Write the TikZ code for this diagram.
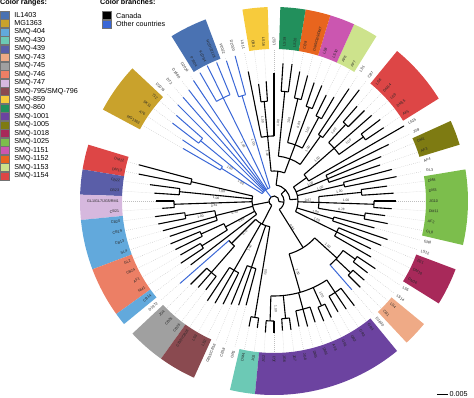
\documentclass[tikz,border=0pt]{standalone}
\usepackage{fontspec}
\setmainfont{Liberation Sans}
\setsansfont{Liberation Sans}
\usetikzlibrary{positioning}

\definecolor{cil}{HTML}{4A72B2}
\definecolor{cmg}{HTML}{C9A22C}
\definecolor{c404}{HTML}{62A9DC}
\definecolor{c430}{HTML}{6CC9B5}
\definecolor{c439}{HTML}{5A5EA8}
\definecolor{c743}{HTML}{EFAA86}
\definecolor{c745}{HTML}{A0A0A0}
\definecolor{c746}{HTML}{EC7F65}
\definecolor{c747}{HTML}{D6B8DE}
\definecolor{c795}{HTML}{8A4A50}
\definecolor{c859}{HTML}{F7CB3C}
\definecolor{c860}{HTML}{22905C}
\definecolor{c1001}{HTML}{6C43A0}
\definecolor{c1005}{HTML}{7E7B12}
\definecolor{c1018}{HTML}{A8295A}
\definecolor{c1025}{HTML}{7CBE4C}
\definecolor{c1151}{HTML}{CB56B0}
\definecolor{c1152}{HTML}{E8651E}
\definecolor{c1153}{HTML}{CDE38C}
\definecolor{c1154}{HTML}{DD4646}
\definecolor{othblue}{HTML}{3A67D6}

% tree helpers: arc at radius #2 from angle #3 to #4, radial line at angle #2 from #3 to #4
\newcommand\arcat[4][cn]{\draw[#1] (#3:#2) arc[start angle=#3, end angle=#4, radius=#2];}
\newcommand\radl[4][cn]{\draw[#1] (#2:#3) -- (#2:#4);}

\begin{document}
\begin{tikzpicture}[x=1pt,y=1pt,
cn/.style={black, line width=1.1pt},
ot/.style={othblue, line width=1pt},
leader/.style={gray!50, line width=0.35pt, dash pattern=on 0.7pt off 1.3pt},
leaf/.style={font=\fontsize{3.7}{3.7}\selectfont, inner sep=0pt, text=black!85},
supp/.style={font=\fontsize{3.3}{3.3}\selectfont, inner sep=0pt, text=black!80},
swatch/.style={minimum width=9.5pt, minimum height=8pt, inner sep=0pt, draw=black!55, line width=0.3pt},
legtext/.style={font=\fontsize{7.2}{7.2}\selectfont, inner sep=0.5pt, anchor=west},
legtitle/.style={font=\fontsize{7.2}{7.2}\selectfont\bfseries, inner sep=0pt, anchor=base west}]
\useasboundingbox (0,0) rectangle (474,398);

% legends
\node[legtitle] (rangetitle) at (0,393.5) {Color ranges:};
\foreach \col/\lab [count=\i from 0] in {cil/IL1403, cmg/MG1363, c404/SMQ-404, c430/SMQ-430,
  c439/SMQ-439, c743/SMQ-743, c745/SMQ-745, c746/SMQ-746, c747/SMQ-747, c795/{SMQ-795/SMQ-796},
  c859/SMQ-859, c860/SMQ-860, c1001/SMQ-1001, c1005/SMQ-1005, c1018/SMQ-1018, c1025/SMQ-1025,
  c1151/SMQ-1151, c1152/SMQ-1152, c1153/SMQ-1153, c1154/SMQ-1154}{
  \node[swatch, fill=\col] (sw\i) at (4.75,{383-8.46*\i}) {};
  \node[legtext, right=4pt of sw\i] (lg\i) {\lab};
}
\node[legtitle] (branchtitle) at (100,393.5) {Color branches:};
\node[swatch, fill=black] (swca) at (106.5,382.5) {};
\node[swatch, fill=othblue, below=0pt of swca] (swot) {};
\node[legtext, right=4pt of swca] (lgca) {Canada};
\node[legtext, right=4pt of swot] (lgot) {Other countries};

% scale bar
\coordinate (sb1) at (437,3.5);
\coordinate (sb2) at (448,3.5);
\draw[line width=1pt] (sb1) -- (sb2);
\node[legtext, right=1pt of sb2] (sblab) {0.005};

\begin{scope}[shift={(274,197)}]
% colour ranges
\foreach \a/\b/\col in {-3/2/c1025, 5/6/c1005, 9/13/c1154, 16/17/c1153, 18/19/c1151, 20/21/c1152,
  22/23/c860, 25/26/c859, 30/32/cil, 37/40/cmg, 44/45/c1154, 46/47/c439, 48/49/c747, 50/53/c404,
  54/57/c746, 58/58/c404, 60/62/c745, 63/65/c795, 69/70/c430, 71/82/c1001, 84/85/c743, 88/90/c1018}{
  \fill[\col] (\a*3.75-1.875:152) arc[start angle=\a*3.75-1.875, end angle=\b*3.75+1.875, radius=152]
    -- (\b*3.75+1.875:194) arc[start angle=\b*3.75+1.875, end angle=\a*3.75-1.875, radius=194] -- cycle;
}

% root
\arcat{5}{-7}{242.8}
\radl{-7}{5}{10}
\radl[ot]{127.5}{5}{14}
\radl{191}{5}{22}
\radl{242.8}{5}{26}
\arcat{10}{-58}{43.6}
\radl{43.6}{10}{16}
\radl{-58}{10}{55}
% upper right
\arcat{16}{4.7}{82.5}
\radl{4.7}{16}{24}
\radl{82.5}{16}{30}
\arcat{24}{-26.25}{35.625}
\radl{-26.25}{24}{70} \arcat{70}{-30}{-22.5}
\radl{-16.875}{24}{62} \arcat{62}{-18.75}{-15}
\radl{-1.875}{24}{45} \arcat{45}{-9.375}{5.625}
\radl{-9.375}{45}{92} \arcat{92}{-11.25}{-7.5}
\radl{-1.875}{45}{100} \arcat{100}{-3.75}{0}
\radl{5.625}{45}{88} \arcat{88}{3.75}{7.5}
\radl{13.125}{24}{72} \arcat{72}{11.25}{15}
\radl{22.5}{24}{58} \arcat{58}{18.75}{26.25}
\radl{35.625}{24}{40} \arcat{40}{30}{41.25}
\radl{41.25}{40}{80} \arcat{80}{35.625}{46.875}
\radl{35.625}{80}{110} \arcat{110}{33.75}{37.5}
\radl{46.875}{80}{105} \arcat{105}{45}{48.75}
\arcat{30}{69.375}{95.625}
\radl{95.625}{30}{65} \arcat{65}{90}{101.25}
\radl{95.625}{65}{100} \arcat{100}{93.75}{97.5}
\radl{69.375}{30}{45} \arcat{45}{54.375}{84.375}
\radl{54.375}{45}{80} \arcat{80}{52.5}{56.25}
\radl{69.375}{45}{60} \arcat{60}{61.875}{76.875}
\radl{61.875}{60}{95} \arcat{95}{60}{63.75}
\radl{69.375}{60}{100} \arcat{100}{67.5}{71.25}
\radl{76.875}{60}{105} \arcat{105}{75}{78.75}
\radl{84.375}{45}{110} \arcat{110}{82.5}{86.25}
% lower right
\arcat{55}{286}{317.8}
\radl{286}{55}{95} \arcat{95}{268.125}{303.75}
\radl{268.125}{95}{120} \arcat{120}{266.25}{270}
\radl{275.625}{95}{118} \arcat{118}{273.75}{277.5}
\radl{285}{95}{112} \arcat{112}{281.25}{288.75}
\radl{294.375}{95}{115} \arcat{115}{292.5}{296.25}
\radl{303.75}{95}{110} \arcat{110}{300}{307.5}
\radl{317.8}{55}{85} \arcat{85}{311.25}{324.375}
\radl{316.875}{85}{105} \arcat{105}{315}{318.75}
\radl{324.375}{85}{100} \arcat{100}{322.5}{326.25}
% other countries
\arcat[ot]{14}{106.875}{148.125}
\radl[ot]{106.875}{14}{110} \arcat[ot]{110}{105}{108.75}
\radl[ot]{116.25}{14}{115} \arcat[ot]{115}{112.5}{120}
\radl[ot]{140.625}{14}{95} \arcat[ot]{95}{138.75}{142.5}
\radl[ot]{148.125}{14}{62} \arcat[ot]{62}{146.25}{150}
% left
\arcat{22}{166.875}{217.5}
\radl{166.875}{22}{85} \arcat{85}{165}{168.75}
\radl{174.375}{22}{95} \arcat{95}{172.5}{176.25}
\radl{181.875}{22}{100} \arcat{100}{180}{183.75}
\radl{194.06}{22}{60} \arcat{60}{189.375}{198.75}
\radl{189.375}{60}{90} \arcat{90}{187.5}{191.25}
\radl{208.125}{22}{55} \arcat{55}{204.375}{211.875}
\radl{204.375}{55}{80} \arcat{80}{202.5}{206.25}
\radl{211.875}{55}{85} \arcat{85}{210}{213.75}
% lower left
\arcat{26}{225}{260.625}
\radl{225}{26}{60} \arcat{60}{221.25}{228.75}
\radl{228.75}{60}{95} \arcat{95}{225}{232.5}
\radl{240}{26}{80} \arcat{80}{236.25}{243.75}
\radl{251.25}{26}{70} \arcat{70}{247.5}{255}
\radl{260.625}{26}{118} \arcat{118}{258.75}{262.5}

% terminal branches and leaders
\foreach \k/\p/\t/\s in {0/100/122/cn, 1/88/120/cn, 2/88/114/cn, 3/72/125/cn, 4/72/122/cn,
  5/58/112/cn, 6/58/116/cn, 7/58/128/cn, 8/40/150/cn, 9/110/132/cn, 10/110/134/cn, 11/80/130/cn,
  12/105/128/cn, 13/105/126/cn, 14/80/140/cn, 15/80/135/cn, 16/95/120/cn, 17/95/118/cn,
  18/100/125/cn, 19/100/125/cn, 20/105/130/cn, 21/105/132/cn, 22/110/138/cn, 23/110/138/cn,
  24/65/128/cn, 25/100/120/cn, 26/100/118/cn, 27/65/132/cn,
  28/110/150/ot, 29/110/148/ot, 30/115/150/ot, 31/115/151/ot, 32/115/148/ot, 33/14/145/ot,
  34/14/140/ot, 35/14/138/ot, 36/14/136/ot, 37/95/130/ot, 38/95/128/ot, 39/62/110/ot, 40/62/105/ot,
  44/85/140/cn, 45/85/138/cn, 46/95/125/cn, 47/95/120/cn, 48/100/118/cn, 49/100/112/cn,
  50/90/120/cn, 51/90/118/cn, 52/60/115/cn, 53/60/110/cn, 54/80/112/cn, 55/80/110/cn,
  56/85/108/cn, 57/85/112/cn, 58/22/105/cn,
  59/60/125/ot, 60/95/118/cn, 61/95/115/cn, 62/95/112/cn, 63/80/120/cn, 64/80/118/cn,
  65/80/115/cn, 66/70/112/cn, 67/70/110/cn, 68/70/108/cn, 69/118/128/cn, 70/118/128/cn,
  71/120/132/cn, 72/120/132/cn, 73/118/130/cn, 74/118/130/cn, 75/112/128/cn, 76/112/130/cn,
  77/112/128/cn, 78/115/130/cn, 79/115/130/cn, 80/110/128/cn, 81/110/130/cn, 82/110/132/cn,
  83/85/118/ot, 84/105/122/cn, 85/105/120/cn, 86/100/118/cn, 87/100/122/cn, 88/70/112/cn,
  89/70/108/cn, 90/70/116/cn, 91/62/120/cn, 92/62/104/cn, 93/92/116/cn, 94/92/112/cn, 95/100/118/cn}{
  \draw[\s] (\k*3.75:\p) -- (\k*3.75:\t);
  \draw[leader] (\k*3.75:\t) -- (\k*3.75:151);
}

% support values
\foreach \a/\r/\v [count=\i] in {98/48/1.00, 98/82/1.00, 87/78/1.00, 79.5/82/1.00, 72/80/0.89,
  64.5/78/1.00, 57/62/1.00, 44/60/1.00, 38.5/95/1.00, 49.5/92/1.00, 25/40/1.00, 15.5/48/1.00,
  0.8/34/0.67, 0.5/72/1.00, 8/66/1.00, -7/68/0.78, -14.5/43/1.00, -23.5/47/1.00, -55.5/32/0.95,
  288.5/75/1.00, 320.3/70/1.00, 109.5/62/1.00, 118.8/64/1.00, 143.2/55/1.00, 150.7/38/1.00,
  169.5/53/1.00, 177/58/1.00, 184.5/60/0.81, 196.5/41/0.90, 192/75/1.00, 210.6/38/0.85,
  242.5/53/1.00, 263.2/72/1.00, 227.5/43/0.72, 271/108/1.00, 297/105/1.00}{
  \pgfmathsetmacro\rot{cos(\a)<0 ? \a+180 : \a}
  \node[supp, rotate=\rot] (s\i) at (\a:\r) {\v};
}

% leaf labels
\foreach \k/\lab in {0/JG10, 1/DM3, 2/DM8, 3/GL3, 4/AF4, 5/AF3, 6/DM1, 7/JG9, 8/LS15, 9/AF5,
  10/DM15, 11/LS9, 12/DM14, 13/LS6, 14/CB7, 15/LS1, 16/AF7, 17/AF6, 18/LS10, 19/LS8,
  20/{DM9/CB9/DM7}, 21/CB8, 22/LS20, 23/LS19, 24/LS17,
  73/JG6, 74/JG7, 75/JG8, 76/DM5, 77/DM6, 78/AF8, 79/GR1, 80/GR2, 81/GR3, 82/GR4, 83/D1830,
  84/CB1, 85/LS4, 86/LS14, 87/LS5, 88/DM16, 89/DM10, 90/ZE1, 91/LS12, 92/GR8, 93/GL8, 94/AF2,
  95/DM11}{
  \node[leaf, anchor=west, rotate=\k*3.75] (l\k) at (\k*3.75:155) {\lab};
}
\foreach \k/\lab in {25/LS16, 26/CB3, 27/LS11, 28/D2020, 29/P2022, 30/NCDO2118, 31/KLDS4, 32/P7304,
  33/D2024, 34/D1680, 35/DT2, 36/D2076, 37/712, 38/SK11, 39/A76, 40/MG1363,
  44/DM12, 45/DM13, 46/CB22, 47/CB23, 48/{GL1/GL7/JG5/RM1}, 49/CB21, 50/CB20, 51/CB19, 52/CB13,
  53/SL4, 54/GL2, 55/CB24, 56/AF1, 57/NM1, 58/CB14, 59/D1972, 60/JG4, 61/CB25, 62/CB26,
  63/{CB27/CB28}, 64/LS3, 65/LS2, 66/{CB15/CB16}, 67/CB18, 68/GR5, 69/DM4, 70/JG1, 71/JG2, 72/JG3}{
  \node[leaf, anchor=east, rotate=\k*3.75-180] (l\k) at (\k*3.75:155) {\lab};
}
\end{scope}
\end{tikzpicture}
\end{document}
